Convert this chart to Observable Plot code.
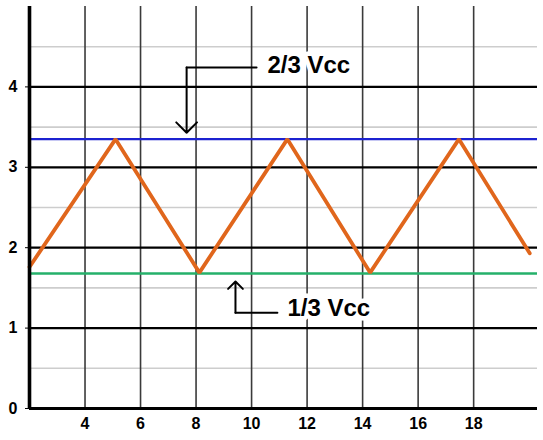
<!DOCTYPE html>
<html>
<head>
<meta charset="utf-8">
<script src="https://cdn.jsdelivr.net/npm/d3@7"></script>
<script src="https://cdn.jsdelivr.net/npm/@observablehq/plot@0.6"></script>
<style>
  html, body { margin: 0; padding: 0; background: #fff; }
  #chart { width: 543px; height: 440px; }
</style>
</head>
<body>
<div id="chart"></div>
<script>
// Triangle wave (capacitor voltage)
const waveX = [2, 5.10, 8.12, 11.29, 14.27, 17.47, 20.02];
const waveY = [1.76, 3.35, 1.69, 3.35, 1.69, 3.35, 1.93];

// Threshold levels
const upperLevel = 3.35;   // 2/3 Vcc
const lowerLevel = 1.68;   // 1/3 Vcc

// Ticks / grid
const xTicks = [4, 6, 8, 10, 12, 14, 16, 18];
const yTicks = [0, 1, 2, 3, 4];
const yMajorGrid = [1, 2, 3, 4];
const yMinorGrid = [0.5, 1.5, 2.5, 3.5, 4.5];

// Annotations
const labels = ["2/3 Vcc", "1/3 Vcc"];
const labelX = [10.57, 11.29];
const labelY = [4.27, 1.24];
const elbowStartX = [10.18, 10.93];   // far end of horizontal leg
const elbowX = [7.66, 9.42];          // x of vertical leg
const elbowY = [4.24, 1.19];          // y of horizontal leg
const tipY = [3.43, 1.58];            // arrow tip

const wave = waveX.map((x, i) => ({x, y: waveY[i]}));
const legs = labels.flatMap((l, i) => [
  {k: l, x: elbowStartX[i], y: elbowY[i]},
  {k: l, x: elbowX[i], y: elbowY[i]}
]);
const arrows = labels.map((l, i) => ({x1: elbowX[i], y1: elbowY[i], x2: elbowX[i], y2: tipY[i]}));
const texts = labels.map((l, i) => ({text: l, x: labelX[i], y: labelY[i]}));

const chart = Plot.plot({
  width: 543,
  height: 440,
  marginLeft: 29,
  marginRight: 6,
  marginTop: 6,
  marginBottom: 32,
  style: {fontFamily: "'Liberation Sans', Arial, sans-serif", background: "#fff"},
  x: {domain: [2, 20.3]},
  y: {domain: [0, 5]},
  marks: [
    Plot.ruleY(yMinorGrid, {stroke: "#cdcdcd", strokeWidth: 1.6}),
    Plot.ruleX(xTicks, {stroke: "#3a3a3a", strokeWidth: 1.6}),
    Plot.ruleY(yMajorGrid, {stroke: "#000", strokeWidth: 2.2}),
    Plot.ruleY([upperLevel], {stroke: "#1c22d0", strokeWidth: 2.2}),
    Plot.ruleY([lowerLevel], {stroke: "#25b06a", strokeWidth: 2.4}),
    Plot.line(wave, {x: "x", y: "y", stroke: "#e0661c", strokeWidth: 3.8, strokeLinejoin: "miter"}),
    Plot.ruleX([2], {stroke: "#000", strokeWidth: 3.6}),
    Plot.ruleY([0], {stroke: "#000", strokeWidth: 3}),
    Plot.axisY({ticks: yTicks, tickFormat: d3.format("d"), tickSize: 4, tickPadding: 8, tickStrokeWidth: 2, fontSize: 16, fontWeight: "bold", label: null}),
    Plot.axisX({ticks: xTicks, tickFormat: d3.format("d"), tickSize: 0, tickPadding: 9, fontSize: 16, fontWeight: "bold", label: null}),
    Plot.line(legs, {x: "x", y: "y", z: "k", stroke: "#000", strokeWidth: 2}),
    Plot.arrow(arrows, {x1: "x1", y1: "y1", x2: "x2", y2: "y2", stroke: "#000", strokeWidth: 2, headLength: 11, headAngle: 90}),
    Plot.text(texts, {x: "x", y: "y", text: "text", textAnchor: "start", fontSize: 24, fontWeight: "bold", fill: "#000", stroke: "#fff", strokeWidth: 9})
  ]
});
document.getElementById("chart").appendChild(chart);
</script>
</body>
</html>
